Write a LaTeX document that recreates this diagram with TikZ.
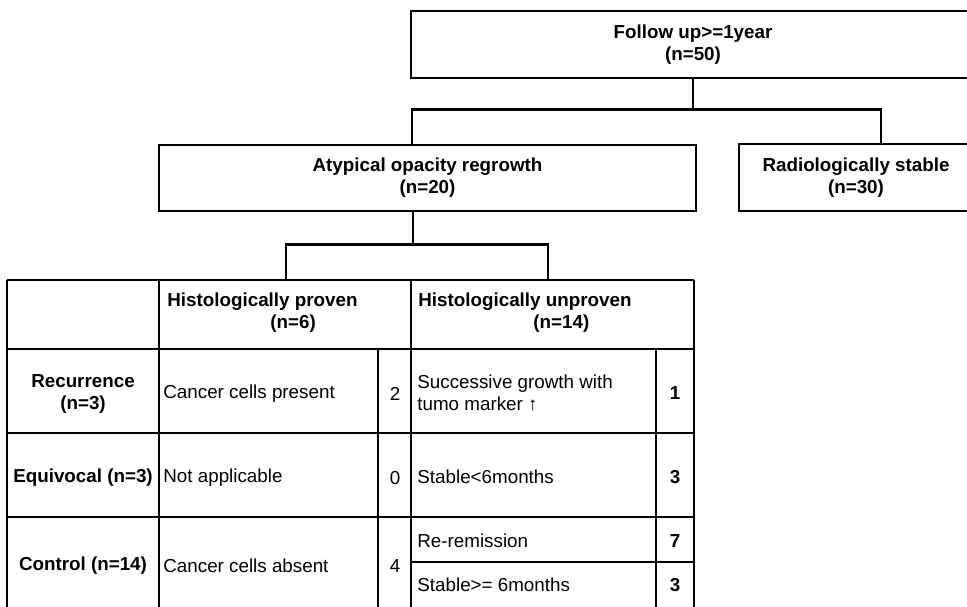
\documentclass[tikz,border=0pt]{standalone}
\usepackage{fontspec}
\setmainfont{Liberation Sans}
\newcommand{\cellfont}{\fontsize{9.4pt}{11pt}\selectfont}
\tikzset{
    box/.style={draw, line width=1.1pt, align=center, inner sep=0pt, font=\cellfont\bfseries},
    link/.style={line width=1.4pt},
    rule/.style={line width=1.1pt},
    head/.style={inner sep=0pt, align=center, font=\cellfont\bfseries},
    txt/.style={inner sep=0pt, anchor=west, align=left, font=\cellfont},
    num/.style={inner sep=0pt, font=\cellfont}
}
\begin{document}
\begin{tikzpicture}[x=0.5pt, y=-0.5pt]
\useasboundingbox (0,0) rectangle (967,606);
\clip (0,0) rectangle (967,606);
% tree part
\node[box, minimum width=282pt, minimum height=33.5pt] (followup) at (693,44.5) {Follow up>=1year\\(n=50)};
\node[box, minimum width=268.5pt, minimum height=33pt] (regrowth) at (427.5,178) {Atypical opacity regrowth\\(n=20)};
\node[box, minimum width=117pt, minimum height=33.5pt] (stable) at (856,177.5) {Radiologically stable\\(n=30)};
\draw[link] (followup.south) -- ++(0,30) coordinate (fork1);
\draw[link] ([xshift=-7.75pt]regrowth.north) |- (fork1) -| ([xshift=12.5pt]stable.north);
\draw[link] ([xshift=-7.25pt]regrowth.south) -- ++(0,32) coordinate (fork2);
\coordinate (tabL) at (286,280);
\coordinate (tabR) at (548,280);
\draw[link] (tabL) |- (fork2) -| (tabR);
% table grid
\foreach \x in {7,159,411,694} \draw[rule] (\x,280) -- (\x,620);
\foreach \x in {378,656} \draw[rule] (\x,349) -- (\x,620);
\foreach \y in {280,349,433,517} \draw[rule] (7,\y) -- (694,\y);
\draw[rule] (411,562) -- (694,562);
% header
\node[head, anchor=west, align=left] (proven) at (167,313) {Histologically proven\\\hspace*{51.5pt}(n=6)};
\node[head, anchor=west, align=left] (unproven) at (418,313) {Histologically unproven\\\hspace*{57.5pt}(n=14)};
% rows
\node[head] (recur) at (83,394) {Recurrence\\(n=3)};
\node[head] (equiv) at (83,478) {Equivocal (n=3)};
\node[head] (control) at (83,566) {Control (n=14)};
\node[txt] (present) at (163,394) {Cancer cells present};
\node[txt] (notapp) at (163,478) {Not applicable};
\node[txt] (absent) at (163,566) {Cancer cells absent};
\node[num] (npresent) at (395,394) {2};
\node[num] (nnotapp) at (395,478) {0};
\node[num] (nabsent) at (395,566) {4};
\node[txt] (growth) at (417,393) {Successive growth with\\tumo marker ↑};
\node[txt] (short) at (417,477) {Stable<6months};
\node[txt] (remiss) at (417,541) {Re-remission};
\node[txt] (long) at (417,585) {Stable>= 6months};
\node[num, font=\cellfont\bfseries] (ngrowth) at (675,393) {1};
\node[num, font=\cellfont\bfseries] (nshort) at (675,477) {3};
\node[num, font=\cellfont\bfseries] (nremiss) at (675,541) {7};
\node[num, font=\cellfont\bfseries] (nlong) at (675,585) {3};
\end{tikzpicture}
\end{document}
